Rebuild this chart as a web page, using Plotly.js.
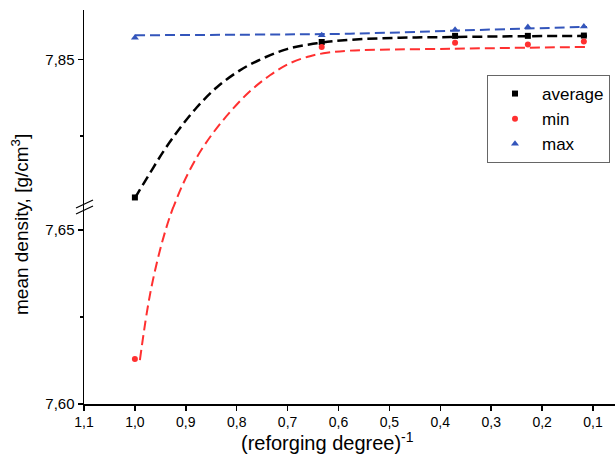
<!DOCTYPE html>
<html>
<head>
<meta charset="utf-8">
<script src="https://cdn.plot.ly/plotly-3.0.1.min.js"></script>
<style>html,body{margin:0;padding:0;background:#fff;}#chart{width:615px;height:471px;}</style>
</head>
<body>
<div id="chart"></div>
<script>
// measured points
var xPts = [1.0, 0.633, 0.371, 0.228, 0.118];
var avgVals = [7.8051, 7.8556, 7.8576, 7.8576, 7.8577];
var minVals = [7.6129, 7.8540, 7.8554, 7.8548, 7.8558];
var maxVals = [7.8570, 7.8578, 7.8596, 7.8605, 7.8606];

// fitted curves
var avgFitX = [1.0, 0.9705, 0.9410, 0.9116, 0.8782, 0.8389, 0.7937, 0.7485, 0.7013, 0.6424, 0.5775, 0.4793, 0.3810, 0.2277, 0.1118];
var avgFitY = [7.8049, 7.8130, 7.8208, 7.8276, 7.8344, 7.8409, 7.8464, 7.8503, 7.8533, 7.8552, 7.8563, 7.8570, 7.8572, 7.8575, 7.8576];
// min fit, lower segment (runs on past the break, clipped by the axis)
var minFitLoX = [0.9902, 0.9764, 0.9646, 0.9469, 0.9273, 0.9057];
var minFitLoY = [7.6126, 7.6264, 7.6356, 7.6463, 7.6555, 7.6632];
// min fit, upper segment (starts below the break, clipped by the axis)
var minFitHiX = [0.9273, 0.9057, 0.8782, 0.8467, 0.8133, 0.7740, 0.7347, 0.6954, 0.6561, 0.6227, 0.5775, 0.3810, 0.1118];
var minFitHiY = [7.8007, 7.8094, 7.8182, 7.8260, 7.8328, 7.8396, 7.8448, 7.8487, 7.8510, 7.8521, 7.8528, 7.8534, 7.8540];
var maxFitX = [1.0, 0.774, 0.5775, 0.371, 0.228, 0.1118];
var maxFitY = [7.8578, 7.8580, 7.8583, 7.8593, 7.8600, 7.8605];

var seriesNames = ['average', 'min', 'max'];
var xTitle = '(reforging degree)<sup>-1</sup>';
var yTitle = 'mean density, [g/cm<sup>3</sup>]';

var cBlack = '#000000', cRed = '#ff3030', cBlue = '#3355bb';
var dashPat = '10px,5px';

function fitLine(color, width) {
  return {color: color, width: width, dash: dashPat, shape: 'spline', smoothing: 1};
}

var traces = [
  {x: avgFitX, y: avgFitY, yaxis: 'y2', mode: 'lines', line: fitLine(cBlack, 2.5), showlegend: false, hoverinfo: 'skip'},
  {x: minFitLoX, y: minFitLoY, yaxis: 'y', mode: 'lines', line: fitLine(cRed, 2), showlegend: false, hoverinfo: 'skip'},
  {x: minFitHiX, y: minFitHiY, yaxis: 'y2', mode: 'lines', line: fitLine(cRed, 2), showlegend: false, hoverinfo: 'skip'},
  {x: maxFitX, y: maxFitY, yaxis: 'y2', mode: 'lines', line: fitLine(cBlue, 2), showlegend: false, hoverinfo: 'skip'},
  {x: xPts, y: avgVals, yaxis: 'y2', mode: 'markers', name: seriesNames[0], marker: {symbol: 'square', size: 6, color: cBlack}, cliponaxis: false},
  {x: xPts.slice(1), y: minVals.slice(1), yaxis: 'y2', mode: 'markers', name: seriesNames[1], legendgroup: 'min', marker: {symbol: 'circle', size: 6, color: cRed}},
  {x: xPts.slice(0, 1), y: minVals.slice(0, 1), yaxis: 'y', mode: 'markers', name: seriesNames[1], legendgroup: 'min', showlegend: false, marker: {symbol: 'circle', size: 6, color: cRed}},
  {x: xPts, y: maxVals, yaxis: 'y2', mode: 'markers', name: seriesNames[2], marker: {symbol: 'triangle-up', size: 7, color: cBlue}, cliponaxis: false}
];

// pixel helpers for decorative placement
var L = 84, T = 10, W = 531, H = 394;
function px(v) { return (v - L) / W; }
function py(v) { return (T + H - v) / H; }

var layout = {
  width: 615, height: 471,
  margin: {l: L, r: 0, t: T, b: 471 - T - H},
  paper_bgcolor: '#fff', plot_bgcolor: '#fff',
  separators: ', ',
  font: {family: 'Arial, "Liberation Sans", sans-serif', color: '#000'},
  showlegend: true,
  legend: {
    x: px(487), y: py(75), xanchor: 'left', yanchor: 'top',
    bgcolor: '#fff', bordercolor: '#666', borderwidth: 1,
    font: {size: 17, color: '#000'}, tracegroupgap: 0, itemwidth: 44
  },
  xaxis: {
    range: [1.1, 0.0568], dtick: 0.1, tick0: 0, tickformat: '.1f',
    showline: true, linecolor: '#000', linewidth: 1.5, mirror: false,
    ticks: 'outside', ticklen: 5, tickwidth: 1.5, tickcolor: '#000',
    showgrid: false, zeroline: false, anchor: 'y',
    tickfont: {size: 14}
  },
  yaxis: {
    domain: [0, 0.5], range: [7.60, 7.6566], dtick: 0.05, tick0: 7.6, tickformat: '.2f',
    showline: true, linecolor: '#000', linewidth: 1.5,
    ticks: 'outside', ticklen: 5, tickwidth: 1.5, tickcolor: '#000',
    minor: {dtick: 0.025, tick0: 7.6, ticks: 'outside', ticklen: 3, tickwidth: 1.5, tickcolor: '#000', showgrid: false},
    showgrid: false, zeroline: false, anchor: 'x',
    tickfont: {size: 15}
  },
  yaxis2: {
    domain: [0.5, 1], range: [7.802, 7.866], dtick: 0.05, tick0: 7.6, tickformat: '.2f',
    showline: true, linecolor: '#000', linewidth: 1.5,
    ticks: 'outside', ticklen: 5, tickwidth: 1.5, tickcolor: '#000',
    minor: {dtick: 0.025, tick0: 7.6, ticks: 'outside', ticklen: 3, tickwidth: 1.5, tickcolor: '#000', showgrid: false},
    showgrid: false, zeroline: false, anchor: 'x',
    tickfont: {size: 15}
  },
  annotations: [
    {text: yTitle, xref: 'paper', yref: 'paper', x: px(20), y: py(225),
     xanchor: 'center', yanchor: 'middle', textangle: -90, showarrow: false,
     font: {size: 19, color: '#000'}},
    {text: xTitle, xref: 'paper', yref: 'paper', x: px(327), y: py(441),
     xanchor: 'center', yanchor: 'middle', showarrow: false,
     font: {size: 20, color: '#000'}}
  ],
  shapes: [
    {type: 'line', xref: 'paper', yref: 'paper', x0: px(76), y0: py(208), x1: px(93), y1: py(200), line: {color: '#000', width: 1.3}},
    {type: 'line', xref: 'paper', yref: 'paper', x0: px(76), y0: py(214), x1: px(93), y1: py(206), line: {color: '#000', width: 1.3}}
  ]
};

Plotly.newPlot('chart', traces, layout, {staticPlot: true, displayModeBar: false});
</script>
</body>
</html>
